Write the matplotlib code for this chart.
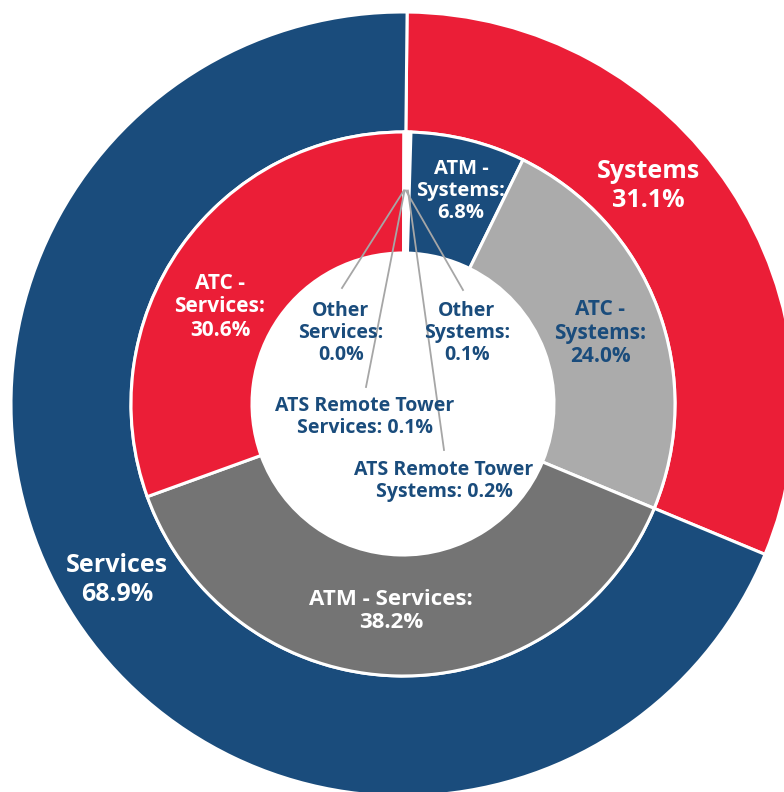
import numpy as np
import matplotlib.pyplot as plt

plt.rcParams['font.family'] = ['Open Sans', 'DejaVu Sans']

# outer ring
outer_labels = ["Systems", "Services"]
outer_values = [31.1, 68.9]

# inner ring (clockwise from the top)
inner_labels = ["Other Systems", "ATS Remote Tower Systems", "ATM - Systems", "ATC - Systems",
                "ATM - Services", "ATC - Services", "Other Services", "ATS Remote Tower Services"]
inner_values = [0.1, 0.2, 6.8, 24.0, 38.2, 30.6, 0.0, 0.1]

BLUE = "#1a4c7c"
RED = "#eb1e37"
LGRAY = "#ababab"
DGRAY = "#747474"

W, H = 784, 792
fig = plt.figure(figsize=(W / 100, H / 100), dpi=100)
ax = fig.add_axes([0, 0, 1, 1])

cx, cy = 403, H - 404
r_out, r_mid, r_in = 392, 272, 151

wp = dict(edgecolor="white", linewidth=2.2)
w_out, _ = ax.pie(outer_values, radius=r_out, center=(cx, cy), startangle=89.4,
                  counterclock=False, colors=[RED, BLUE],
                  wedgeprops=dict(width=r_out - r_mid, **wp))
inner_colors = ["white", "white", BLUE, LGRAY, DGRAY, RED, "white", "white"]
w_in, _ = ax.pie(inner_values, radius=r_mid, center=(cx, cy), startangle=89.4,
                 counterclock=False, colors=inner_colors,
                 wedgeprops=dict(width=r_mid - r_in, **wp))

ax.set_xlim(0, W)
ax.set_ylim(0, H)
ax.set_aspect("equal")
ax.axis("off")


def px(x, y):
    return x, H - y


def fmt(v):
    return f"{v:.1f}%"


# outer labels
ax.text(*px(648, 186), f"{outer_labels[0]}\n{fmt(outer_values[0])}", color="white",
        fontsize=18, fontweight="bold", ha="center", va="center", linespacing=1.2)
ax.text(*px(117, 580), f"{outer_labels[1]}\n{fmt(outer_values[1])}", color="white",
        fontsize=18, fontweight="bold", ha="center", va="center", linespacing=1.2)

# inner labels for the big wedges
big = {
    2: ((461, 191), "ATM -\nSystems:\n", "white", 14.5),
    3: ((600, 333), "ATC -\nSystems:\n", BLUE, 15),
    4: ((391, 611), "ATM - Services:\n", "white", 16),
    5: ((220, 307), "ATC -\nServices:\n", "white", 15),
}
for i, (pos, lab, col, fs) in big.items():
    ax.text(*px(*pos), lab + fmt(inner_values[i]), color=col, fontsize=fs,
            fontweight="bold", ha="center", va="center", linespacing=1.15)

# small wedges: labels in the hole with leader lines
small = {
    0: ((467, 333), "Other\nSystems:\n", (463, 290)),
    1: ((444, 481), "ATS Remote Tower\nSystems: ", (444, 450)),
    6: ((341, 333), "Other\nServices:\n", (342, 288)),
    7: ((365, 417), "ATS Remote Tower\nServices: ", (366, 387)),
}
r_line = (r_mid + r_in) / 2 + 2
for i, (pos, lab, end) in small.items():
    w = w_in[i]
    th = np.deg2rad((w.theta1 + w.theta2) / 2)
    x0, y0 = cx + r_line * np.cos(th), cy + r_line * np.sin(th)
    ax.plot([x0, end[0]], [y0, H - end[1]], color="#a6a6a6", lw=1.3, zorder=3)
    ax.text(*px(*pos), lab + fmt(inner_values[i]), color=BLUE, fontsize=14,
            fontweight="bold", ha="center", va="center", linespacing=1.15, zorder=4)

fig.savefig("out.png", dpi=100)
